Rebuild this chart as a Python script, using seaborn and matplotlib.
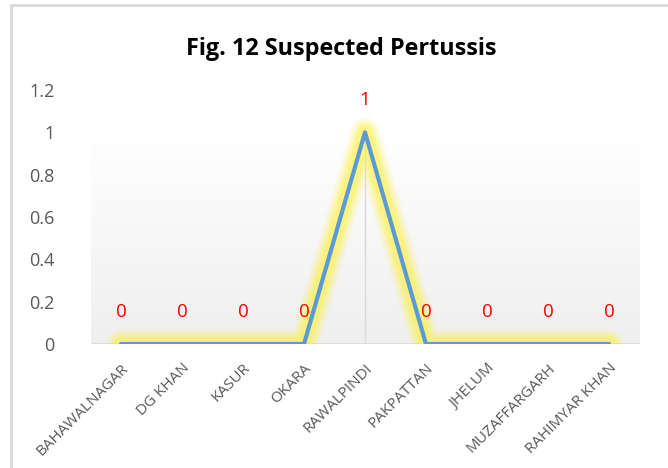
import numpy as np
import pandas as pd
import matplotlib
matplotlib.use("Agg")
import matplotlib.pyplot as plt
import matplotlib.transforms as mtransforms
import seaborn as sns
from matplotlib.lines import Line2D

districts = ["BAHAWALNAGAR", "DG KHAN", "KASUR", "OKARA", "RAWALPINDI",
             "PAKPATTAN", "JHELUM", "MUZAFFARGARH", "RAHIMYAR KHAN"]
cases = [0, 0, 0, 0, 1, 0, 0, 0, 0]
yticks = [0, 0.2, 0.4, 0.6, 0.8, 1, 1.2]
ytick_labels = ["0", "0.2", "0.4", "0.6", "0.8", "1", "1.2"]
title = "Fig. 12 Suspected Pertussis"

df = pd.DataFrame({"district": districts, "cases": cases, "x": range(len(districts))})

sns.set_theme(style="white")
plt.rcParams["font.family"] = ["Open Sans", "DejaVu Sans"]

fig = plt.figure(figsize=(6.68, 4.68), dpi=100)
W, H = 668, 468
ax = fig.add_axes([90.5 / W, 1 - 344 / H, (639.5 - 90.5) / W, (344 - 90) / H])
ax.set_xlim(-0.5, len(districts) - 0.5)
ax.set_ylim(0, 1.2)

# gradient background from 0 up to 1
grad = np.linspace(0, 1, 256).reshape(-1, 1)
cmap = matplotlib.colors.LinearSegmentedColormap.from_list("g", ["#efefef", "#ffffff"])
ax.imshow(grad, extent=[-0.5, len(districts) - 0.5, 0, 1], origin="lower",
          aspect="auto", cmap=cmap, zorder=0)

# drop line at max
imax = int(np.argmax(cases))
ax.vlines(imax, 0, cases[imax], color="#d9d9d9", lw=1, zorder=1)

# glow
for lw, a in [(22, 0.07), (19, 0.10), (16, 0.14), (13, 0.2), (10, 0.3)]:
    ax.plot(df["x"], df["cases"], color="#fff033", lw=lw, alpha=a,
            solid_capstyle="round", solid_joinstyle="round", zorder=2)

sns.lineplot(data=df, x="x", y="cases", ax=ax, color="#5b9bd5", lw=3,
             zorder=3, solid_capstyle="round")

for xi, v in zip(df["x"], df["cases"]):
    ax.annotate(str(v), (xi, v), xytext=(0, 23), textcoords="offset points",
                ha="center", va="center", color="red", fontsize=13.5, zorder=5)

ax.axhline(0, color="#d9d9d9", lw=1.2, zorder=1)

ax.set_xticks(range(len(districts)))
ax.set_xticklabels(districts, rotation=45, ha="right", rotation_mode="anchor",
                   fontsize=11, color="#595959")
shift = mtransforms.ScaledTranslation(3 / 100, 0, fig.dpi_scale_trans)
for lab in ax.get_xticklabels():
    lab.set_transform(lab.get_transform() + shift)
ax.set_yticks(yticks)
ax.set_yticklabels(ytick_labels, fontsize=13, color="#595959")
ax.tick_params(axis="x", length=0, pad=12)
ax.tick_params(axis="y", length=0, pad=26)
ax.set_xlabel("")
ax.set_ylabel("")
for s in ax.spines.values():
    s.set_visible(False)

fig.text(341 / W, 1 - 49 / H, title, ha="center", va="center",
         fontsize=16.8, fontweight="bold", color="black", family=["Open Sans", "DejaVu Sans"])

# border (top and left only visible)
fig.add_artist(Line2D([10.5 / W, 1], [1 - 4.5 / H, 1 - 4.5 / H], transform=fig.transFigure,
                      color="#d9d9d9", lw=2))
fig.add_artist(Line2D([10.5 / W, 10.5 / W], [0, 1 - 4.5 / H], transform=fig.transFigure,
                      color="#d9d9d9", lw=2))

fig.savefig("out.png", dpi=100, facecolor="white")
